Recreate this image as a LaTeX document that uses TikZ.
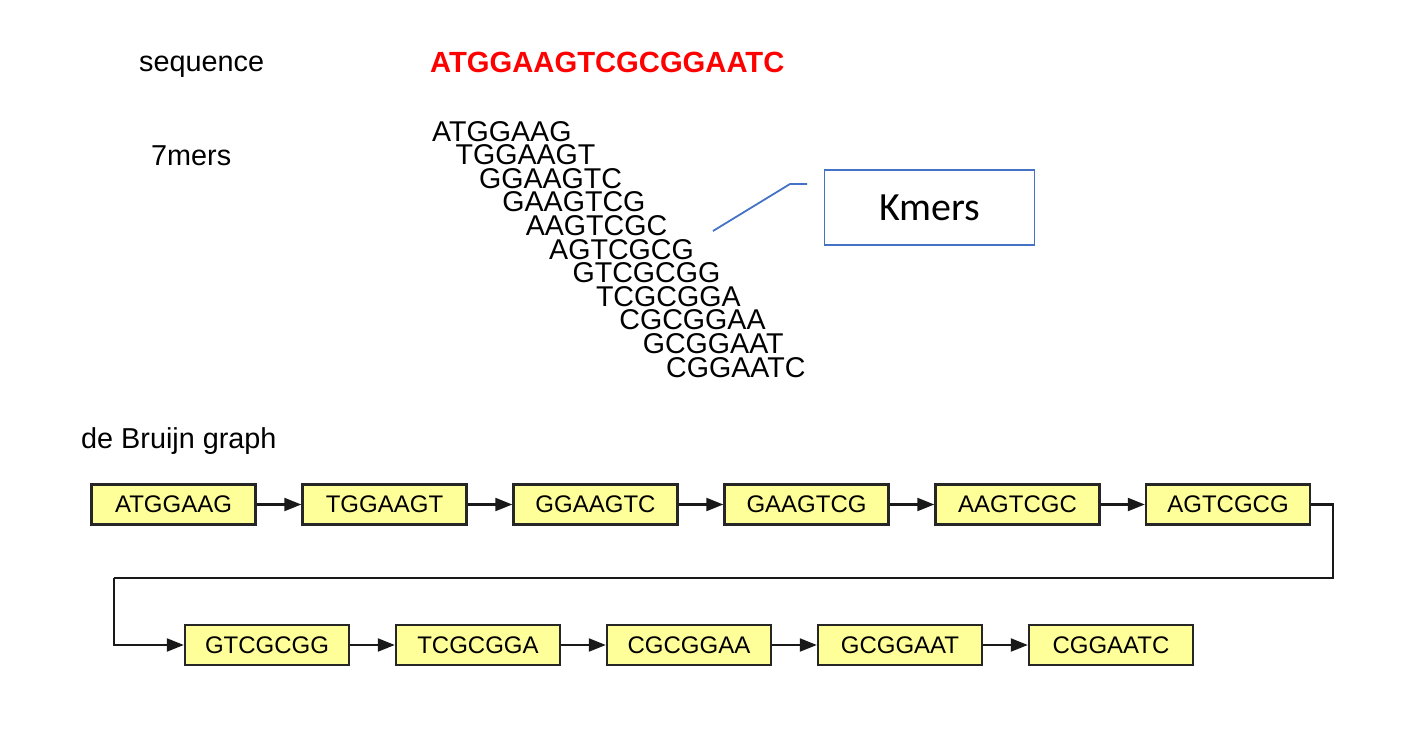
\documentclass[tikz,border=0pt]{standalone}
\usepackage{fontspec}
\setmainfont{Liberation Sans}
\newfontfamily\calibrifont{Carlito}
\usetikzlibrary{arrows.meta}
\definecolor{boxyellow}{RGB}{255,255,153}
\definecolor{calloutblue}{RGB}{68,114,196}
\definecolor{seqred}{RGB}{255,0,0}
\begin{document}
\begin{tikzpicture}[x=1pt,y=-1pt,
  lbl/.style={anchor=base west,inner sep=0pt,font=\fontsize{28.8}{30}\selectfont},
  kmer/.style={anchor=base west,inner sep=0pt,text height=20pt,text depth=0pt,font=\fontsize{28.6}{30}\selectfont},
  gbox/.style={draw=black!85,line width=2.4pt,fill=boxyellow,minimum width=164pt,minimum height=40pt,inner sep=0pt,font=\fontsize{24}{26}\selectfont},
  edge/.style={line width=2.2pt,black!90,-{Triangle[length=17pt,width=13pt]}},
  wrapline/.style={line width=2.2pt,black!90},
  callout/.style={draw=calloutblue,line width=1.8pt,minimum width=210pt,minimum height=75pt,inner sep=0pt,font=\calibrifont\fontsize{40}{44}\selectfont},
  calloutline/.style={calloutblue,line width=1.8pt}]
\useasboundingbox (0,0) rectangle (1425,745);

% labels
\node[lbl] (seqlbl) at (139,71) {sequence};
\node[lbl] (merlbl) at (151,165) {7mers};
\node[lbl,font=\bfseries\fontsize{29.2}{30}\selectfont,text=seqred] (seq) at (430,72) {ATGGAAGTCGCGGAATC};
\node[lbl] (dbg) at (81,448) {de Bruijn graph};

% kmer list
\foreach \s [count=\i from 0] in {ATGGAAG,TGGAAGT,GGAAGTC,GAAGTCG,AAGTCGC,AGTCGCG,GTCGCGG,TCGCGGA,CGCGGAA,GCGGAAT,CGGAATC}{
  \node[kmer] (k\i) at ({432+23.4*\i},{141+23.6*\i}) {\s};
}

% callout
\node[callout] (km) at (929.5,207.5) {Kmers};
\coordinate (c0) at (713,231);
\coordinate (c1) at (790,184);
\coordinate (c2) at (807,184);
\draw[calloutline] (c0) -- (c1) -- (c2);

% de Bruijn graph
\node[gbox] (b1) at (173.5,504.5) {ATGGAAG};
\node[gbox] (b2) at (384.5,504.5) {TGGAAGT};
\node[gbox] (b3) at (595.5,504.5) {GGAAGTC};
\node[gbox] (b4) at (806.5,504.5) {GAAGTCG};
\node[gbox] (b5) at (1017.5,504.5) {AAGTCGC};
\node[gbox] (b6) at (1228,504.5) {AGTCGCG};
\node[gbox] (b7) at (267,645) {GTCGCGG};
\node[gbox] (b8) at (478,645) {TCGCGGA};
\node[gbox] (b9) at (689,645) {CGCGGAA};
\node[gbox] (b10) at (900,645) {GCGGAAT};
\node[gbox] (b11) at (1111,645) {CGGAATC};

\draw[edge] (b1) -- (b2);
\draw[edge] (b2) -- (b3);
\draw[edge] (b3) -- (b4);
\draw[edge] (b4) -- (b5);
\draw[edge] (b5) -- (b6);
\coordinate (w1) at (1333,578);
\coordinate (w2) at (114,578);
\draw[wrapline] (b6.east) -| (w1) -- (w2);
\draw[edge] (w2) |- (b7.west);
\draw[edge] (b7) -- (b8);
\draw[edge] (b8) -- (b9);
\draw[edge] (b9) -- (b10);
\draw[edge] (b10) -- (b11);
\end{tikzpicture}
\end{document}
